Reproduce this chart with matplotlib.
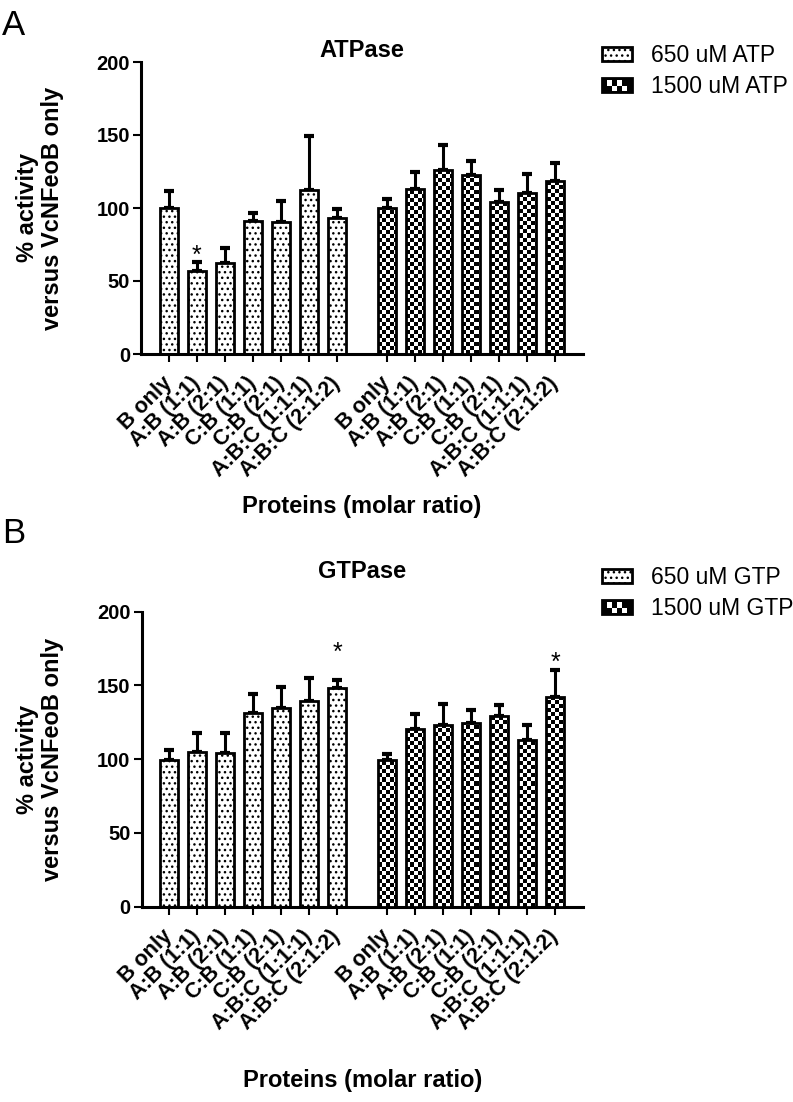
import numpy as np
import matplotlib
matplotlib.use('Agg')
import matplotlib.pyplot as plt
from matplotlib.patches import Rectangle, Patch
from matplotlib.legend_handler import HandlerBase

plt.rcParams['font.family'] = 'Liberation Sans'

labels = ['B only', 'A:B (1:1)', 'A:B (2:1)', 'C:B (1:1)', 'C:B (2:1)',
          'A:B:C (1:1:1)', 'A:B:C (2:1:2)']

atp650 = [100, 57, 62.5, 91, 90.5, 112, 93]
atp650_err = [11.5, 6, 10, 5.5, 14, 37, 6]
atp1500 = [100, 113, 126, 122.5, 104, 110.5, 118.5]
atp1500_err = [6.5, 11.5, 17, 10, 8, 13, 12.5]

gtp650 = [99.5, 105, 104, 131, 134.5, 139.5, 148.5]
gtp650_err = [6.5, 13, 13.5, 13.5, 14.5, 15.5, 5.5]
gtp1500 = [99.5, 120.5, 123.5, 124.5, 129, 113, 142.5]
gtp1500_err = [4, 10, 14, 9, 7.5, 10.5, 18]

# (group, bar index, y of star)
atp_stars = [(0, 1, 67.5)]
gtp_stars = [(0, 6, 172), (1, 6, 165.5)]

W, H = 793, 1102
fig = plt.figure(figsize=(W / 100, H / 100), dpi=100)

x1 = np.arange(7)
x2 = np.arange(7) + 7.8
xlim = (-0.99, 14.8)
ylim = (0, 200)
bw = 0.64


class CheckerHandler(HandlerBase):
    def create_artists(self, legend, orig_handle, xdescent, ydescent,
                       width, height, fontsize, trans):
        x0, y0 = -xdescent, -ydescent
        arts = [Rectangle((x0, y0), width, height, facecolor='black',
                          edgecolor='none', transform=trans)]
        nx, ny = 6, 2
        cw, ch = width / nx, height / ny
        for i in range(1, nx - 1):
            for j in range(ny):
                if (i + j) % 2 == 0:
                    arts.append(Rectangle((x0 + i * cw, y0 + j * ch * 0.8 + ch * 0.1),
                                          cw, ch * 0.8, facecolor='white',
                                          edgecolor='none', transform=trans))
        arts.append(Rectangle((x0, y0), width, height, facecolor='none',
                              edgecolor='black', lw=2, transform=trans))
        return arts


def panel(rect, v1, e1, v2, e2, stars, title, title_y, lab1, lab2, leg_top, xlab_y):
    ax = fig.add_axes(rect)
    # dotted bars
    ax.bar(x1, v1, width=bw, facecolor='white', edgecolor='black', lw=2,
           hatch='...', zorder=2)
    # checker bars: pattern image clipped to each bar, edge on top
    bars2 = ax.bar(x2, v2, width=bw, facecolor='none', edgecolor='black',
                   lw=2, zorder=4)
    wpx = rect[2] * W
    hpx = rect[3] * H
    nc, nr = int(wpx / 4), int(hpx / 4)
    checker = (np.add.outer(np.arange(nr), np.arange(nc)) % 2).astype(float)
    for b in bars2:
        im = ax.imshow(checker, extent=(xlim[0], xlim[1], ylim[0], ylim[1]),
                       cmap='gray_r', interpolation='nearest', aspect='auto',
                       zorder=3, vmin=0, vmax=1)
        im.set_clip_path(b)

    ax.errorbar(x1, v1, yerr=[np.zeros(7), e1], fmt='none', ecolor='black',
                elinewidth=2.2, capsize=3.6, capthick=3, zorder=1)
    ax.errorbar(x2, v2, yerr=[np.zeros(7), e2], fmt='none', ecolor='black',
                elinewidth=2.2, capsize=3.6, capthick=3, zorder=1)

    for g, i, y in stars:
        xs = x1 if g == 0 else x2
        ax.text(xs[i], y, '*', ha='center', va='center', fontsize=18)

    ax.set_xlim(*xlim)
    ax.set_ylim(*ylim)
    ax.set_yticks([0, 50, 100, 150, 200])
    ax.set_xticks(np.concatenate([x1, x2]))
    ax.set_xticklabels(labels + labels, rotation=45, ha='right', va='center',
                       rotation_mode='anchor', fontsize=15.5, fontweight='bold')
    for t in ax.get_yticklabels():
        t.set_fontweight('bold')
        t.set_fontsize(14.5)
    ax.tick_params(axis='x', length=6, width=1.5, pad=13)
    ax.tick_params(axis='y', length=6, width=1.5, pad=2)
    for s in ['top', 'right']:
        ax.spines[s].set_visible(False)
    for s in ['left', 'bottom']:
        ax.spines[s].set_linewidth(2.2)

    cx = rect[0] + rect[2] / 2
    fig.text(cx, 1 - title_y / H, title, ha='center', va='baseline',
             fontsize=17, fontweight='bold')
    fig.text(cx, 1 - xlab_y / H, 'Proteins (molar ratio)', ha='center',
             va='center', fontsize=17, fontweight='bold')
    cy = rect[1] + rect[3] / 2
    fig.text(40 / W, cy, '% activity\nversus VcNFeoB only', rotation=90,
             ha='center', va='center', fontsize=17, fontweight='bold',
             linespacing=1.1)

    h1 = Patch(facecolor='white', edgecolor='black', lw=2, hatch='...')
    h2 = Patch(facecolor='black', edgecolor='black')
    fig.legend([h1, h2], [lab1, lab2], loc='upper left',
               bbox_to_anchor=(602 / W, 1 - leg_top / H), frameon=False,
               fontsize=16.5, handlelength=1.3, handleheight=0.6,
               handletextpad=0.85, labelspacing=0.35, borderpad=0,
               borderaxespad=0, handler_map={h2: CheckerHandler()})
    return ax


panel([141 / W, 1 - 354 / H, 442 / W, 292 / H],
      atp650, atp650_err, atp1500, atp1500_err, atp_stars,
      'ATPase', 57, '650 uM ATP', '1500 uM ATP', 44, 507)
panel([141.7 / W, 1 - 906.7 / H, 441.3 / W, 295 / H],
      gtp650, gtp650_err, gtp1500, gtp1500_err, gtp_stars,
      'GTPase', 578, '650 uM GTP', '1500 uM GTP', 566, 1080)

fig.text(2 / W, 1 - 35 / H, 'A', fontsize=25, ha='left', va='baseline')
fig.text(2 / W, 1 - 543 / H, 'B', fontsize=25, ha='left', va='baseline')

fig.savefig('out.png', dpi=100)
